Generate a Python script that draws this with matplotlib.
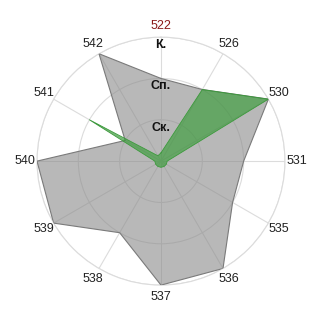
import matplotlib
matplotlib.use("Agg")
import matplotlib.pyplot as plt
import numpy as np

plt.rcParams['font.family'] = ['Liberation Sans', 'DejaVu Sans']

# категории по часовой стрелке, начиная сверху
categories = ['522', '526', '530', '531', '535', '536',
              '537', '538', '539', '540', '541', '542']
gray_values = [2, 2, 3, 2, 2, 3, 3, 2, 3, 3, 1, 3]
green_values = [0.2, 2, 3, 0.15, 0.15, 0.15, 0.15, 0.15, 0.15, 0.15, 2, 0.15]
level_labels = ['Ск.', 'Сп.', 'К.']
level_values = [1, 2, 3]

angles = np.linspace(0, 2 * np.pi, len(categories), endpoint=False)

fig = plt.figure(figsize=(3.2, 3.2), dpi=100)
ax = fig.add_axes([0.1156, 0.109, 0.775, 0.775], projection='polar')
ax.set_theta_zero_location('N')
ax.set_theta_direction(-1)
ax.set_ylim(0, 3)

grid_color = '#dcdcdc'
ax.set_xticks(angles)
ax.set_xticklabels([])
ax.set_yticks(level_values)
ax.set_yticklabels([])
ax.grid(True, color=grid_color, linewidth=0.8)
ax.spines['polar'].set_color(grid_color)
ax.spines['polar'].set_linewidth(0.8)

a_closed = np.append(angles, angles[0])
g_closed = gray_values + gray_values[:1]
gr_closed = green_values + green_values[:1]

ax.fill(a_closed, g_closed, color='#8a8a8a', alpha=0.6, zorder=2, linewidth=0)
ax.plot(a_closed, g_closed, color='#7a7a7a', linewidth=0.8, zorder=3)
ax.fill(a_closed, gr_closed, color='#2f9a2f', alpha=0.6, zorder=4, linewidth=0)
ax.plot(a_closed, gr_closed, color='#3c9a3c', linewidth=0.6, zorder=5)

for i, (ang, lab) in enumerate(zip(angles, categories)):
    col = '#8b1a1a' if i == 0 else '#222222'
    ax.text(ang, 3.28, lab, ha='center', va='center', fontsize=9, color=col)

for lab, val in zip(level_labels, level_values):
    ax.text(0, val - 0.19, lab, ha='center', va='center', fontsize=9,
            fontweight='bold', color='#111111', zorder=6)

fig.savefig('out.png', dpi=100)
